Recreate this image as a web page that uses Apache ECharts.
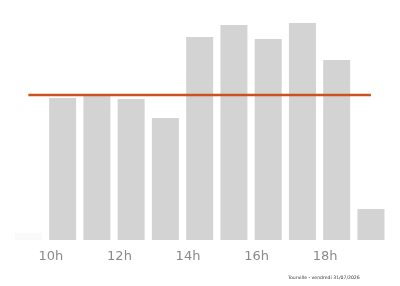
<!DOCTYPE html>
<html>
<head>
<meta charset="utf-8">
<script src="https://cdn.jsdelivr.net/npm/echarts@6/dist/echarts.min.js"></script>
<style>html,body{margin:0;padding:0;background:#fff}#c{width:400px;height:286px}</style>
</head>
<body>
<div id="c"></div>
<script>
// Data
const hours = [9, 10, 11, 12, 13, 14, 15, 16, 17, 18, 19];
const counts = [7, 142, 144, 141, 122, 203, 215, 201, 217, 180, 31];
const meanValue = 145;
const tickHours = [10, 12, 14, 16, 18];
const footerText = 'Tourville - vendredi 31/07/2026';

const barOffset = 0.34; // bars sit a third of an hour after the hour tick
const barData = hours.map((h, i) => [h + barOffset, counts[i]]);
const meanData = [[hours[0] + barOffset, meanValue], [hours[hours.length - 1] + barOffset, meanValue]];

const chart = echarts.init(document.getElementById('c'), null, {renderer: 'canvas'});
chart.setOption({
  animation: false,
  backgroundColor: '#ffffff',
  grid: {left: 15, right: 15, top: 0, bottom: 46},
  xAxis: {
    type: 'value', min: 8.95, max: 19.75,
    splitLine: {show: false}, axisLine: {show: false}, axisTick: {show: false},
    axisLabel: {
      customValues: tickHours,
      formatter: v => v + 'h',
      color: '#8a8a8a', fontSize: 13, fontFamily: 'DejaVu Sans', margin: 10
    }
  },
  yAxis: {
    type: 'value', min: 0, max: 240, show: false, splitLine: {show: false}
  },
  graphic: [{
    type: 'text', left: 288, top: 275.5,
    style: {text: footerText, fontSize: 4.6, fill: '#333', fontFamily: 'DejaVu Sans'}
  }],
  series: [
    {type: 'bar', data: barData, barWidth: 27,
     itemStyle: {color: p => p.dataIndex === 0 ? '#fafafa' : '#d3d3d3'}, z: 1},
    {type: 'line', data: meanData, symbol: 'none', lineStyle: {color: '#c9521f', width: 2.5}, z: 3}
  ]
});
</script>
</body>
</html>
